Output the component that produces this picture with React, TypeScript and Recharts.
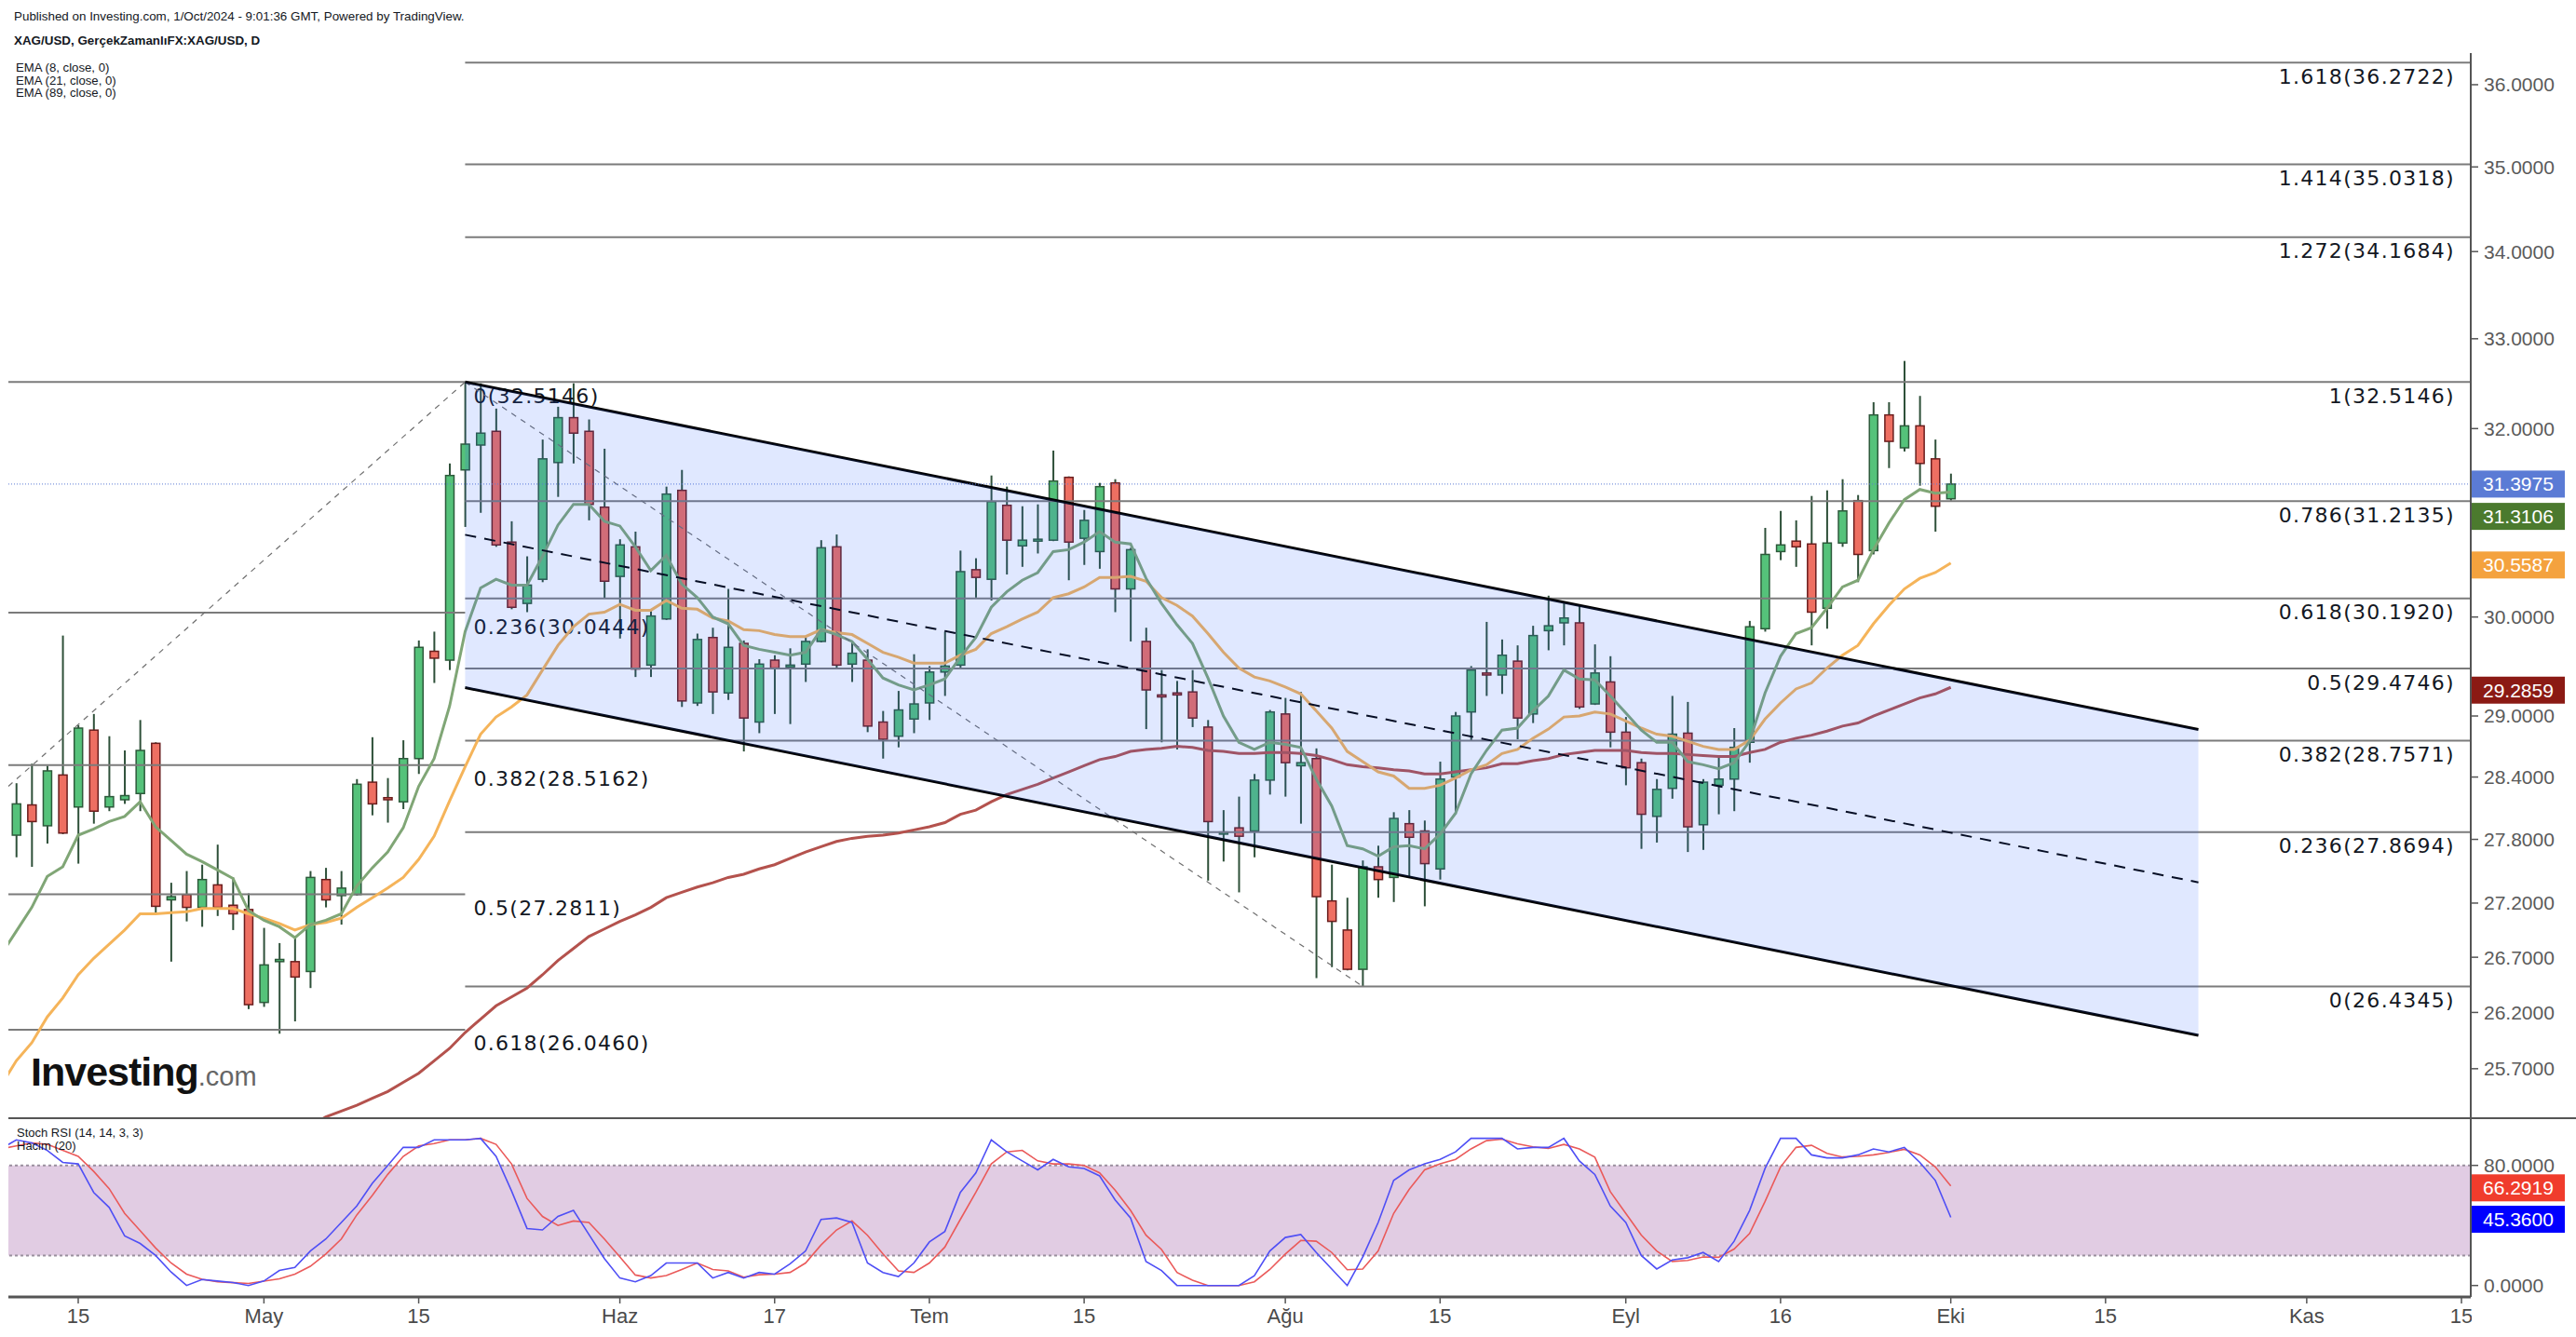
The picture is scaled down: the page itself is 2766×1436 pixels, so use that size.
import React from 'react';
import { ComposedChart, Bar, Line, Area, XAxis, YAxis, ReferenceLine, ReferenceArea } from 'recharts';

// ---------- DATA ----------
const FIRST_INDEX = -5; // trading-day index of first row (index 0 = 15 Apr 2024); row -5 lies left of the pane edge

const opens = [
  null, 27.84, 28.13, 27.93, 28.42,
  28.11, 28.86, 28.11, 28.18, 28.24, 28.73, 27.23, 27.28, 27.16, 27.37,
  27.18, 27.14, 26.29, 26.66, 26.66, 26.57, 27.42, 27.27, 27.28, 28.35,
  28.20, 28.16, 28.58, 29.65, 29.56, 31.55, 31.82, 31.97, 30.78, 30.14,
  30.39, 31.63, 32.12, 31.97, 31.15, 30.42, 30.73, 29.51, 29.98, 31.33,
  29.13, 29.79, 29.23, 29.73, 28.94, 29.56, 29.49, 29.52, 29.75, 30.73,
  29.52, 29.56, 28.94, 28.80, 28.97, 29.13, 29.44, 29.51, 30.49, 30.39,
  31.17, 30.74, 30.79, 30.80, 31.47, 30.82, 30.68, 31.41, 30.29, 29.75,
  29.21, 29.23, 29.24, 28.89, 27.85, 27.91, 27.88, 28.37, 29.02, 28.51,
  28.58, 27.22, 26.95, 26.59, 27.54, 27.44, 27.95, 27.88, 27.52, 28.40,
  29.04, 29.43, 29.41, 29.55, 29.02, 29.86, 29.94, 29.94, 29.12, 29.34,
  28.84, 28.54, 28.02, 28.29, 28.83, 27.94, 28.32, 28.38, 28.74, 29.88,
  30.68, 30.79, 30.76, 30.09, 30.77, 31.22, 30.69, 32.15, 31.79, 32.03,
  31.67, 31.24,
];
const highs = [
  null, 28.34, 28.53, 28.51, 29.81,
  28.91, 29.02, 28.80, 28.66, 28.96, 28.74, 27.39, 27.50, 27.56, 27.75,
  27.44, 27.29, 26.97, 26.83, 26.89, 27.50, 27.53, 27.50, 28.38, 28.79,
  28.39, 28.76, 29.76, 29.85, 31.62, 32.5146, 32.50, 32.22, 31.00, 30.63,
  31.88, 32.24, 32.50, 32.10, 31.78, 30.81, 30.89, 30.07, 31.37, 31.55,
  29.83, 29.89, 30.29, 29.76, 29.57, 29.61, 29.68, 29.79, 30.80, 30.86,
  29.75, 29.67, 29.05, 29.25, 29.62, 29.50, 29.85, 30.69, 30.61, 31.49,
  31.37, 31.16, 31.18, 31.76, 31.48, 31.12, 31.41, 31.45, 30.72, 29.89,
  29.46, 29.35, 29.46, 28.96, 28.08, 28.21, 28.43, 29.06, 29.18, 29.24,
  28.68, 27.56, 27.25, 27.60, 27.74, 28.06, 28.08, 27.98, 28.55, 29.04,
  29.50, 29.95, 29.77, 29.71, 29.91, 30.22, 30.14, 30.12, 29.72, 29.60,
  28.99, 28.58, 28.38, 29.20, 29.14, 28.38, 28.59, 28.88, 29.96, 30.93,
  31.11, 31.01, 31.27, 31.33, 31.45, 31.28, 32.29, 32.29, 32.75, 32.36,
  31.88, 31.51,
];
const lows = [
  null, 27.63, 27.54, 27.76, 27.85,
  27.57, 27.95, 28.07, 28.14, 28.07, 27.10, 26.66, 27.03, 26.98, 27.08,
  26.95, 26.23, 26.25, 26.01, 26.12, 26.42, 27.16, 27.00, 27.27, 28.03,
  27.96, 28.09, 28.43, 29.33, 29.46, 30.94, 31.09, 30.73, 30.08, 30.05,
  30.36, 31.26, 31.62, 31.01, 30.19, 29.78, 29.39, 29.39, 29.97, 29.09,
  29.10, 29.02, 29.16, 28.65, 28.83, 29.02, 28.92, 29.34, 29.74, 29.47,
  29.34, 28.84, 28.58, 28.69, 28.83, 28.96, 29.20, 29.47, 30.20, 30.17,
  30.44, 30.52, 30.66, 30.79, 30.38, 30.54, 30.50, 30.05, 29.75, 28.87,
  28.74, 28.67, 28.89, 27.41, 27.59, 27.30, 27.63, 28.23, 28.21, 27.95,
  26.51, 26.61, 26.58, 26.4345, 27.25, 27.21, 27.44, 27.17, 27.42, 28.04,
  28.76, 29.20, 29.22, 28.77, 28.93, 29.66, 29.71, 29.07, 29.11, 28.69,
  28.32, 27.71, 27.77, 28.19, 27.68, 27.70, 28.04, 28.07, 28.54, 29.85,
  30.59, 30.52, 29.71, 29.88, 30.73, 30.36, 30.65, 31.57, 31.75, 31.38,
  30.89, 31.22,
];
const closes = [
  null, 28.14, 27.97, 28.46, 27.86,
  28.88, 28.07, 28.21, 28.22, 28.66, 27.17, 27.26, 27.16, 27.42, 27.16,
  27.10, 26.27, 26.63, 26.68, 26.52, 27.44, 27.23, 27.34, 28.33, 28.14,
  28.18, 28.58, 29.69, 29.58, 31.49, 31.83, 31.95, 30.75, 30.10, 30.33,
  31.67, 32.12, 31.95, 31.18, 30.37, 30.75, 29.47, 30.01, 31.29, 29.15,
  29.77, 29.24, 29.69, 28.98, 29.52, 29.48, 29.51, 29.75, 30.72, 29.51,
  29.63, 28.90, 28.77, 29.06, 29.12, 29.44, 29.50, 30.47, 30.41, 31.21,
  30.80, 30.80, 30.81, 31.43, 30.78, 31.01, 31.37, 30.29, 30.70, 29.26,
  29.19, 29.21, 28.98, 27.97, 27.87, 27.83, 28.37, 29.04, 28.54, 28.54,
  27.26, 27.03, 26.59, 27.54, 27.42, 28.00, 27.82, 27.57, 28.38, 29.00,
  29.46, 29.41, 29.61, 28.98, 29.81, 29.91, 29.99, 29.09, 29.43, 28.84,
  28.49, 28.04, 28.28, 28.82, 27.92, 28.35, 28.38, 28.69, 29.90, 30.65,
  30.75, 30.73, 30.05, 30.77, 31.11, 30.65, 32.15, 31.86, 32.03, 31.62,
  31.16, 31.3975,
];
const ema8 = [
  26.72, 26.94, 27.16, 27.45, 27.54,
  27.84, 27.90, 27.97, 28.02, 28.16, 27.92, 27.79, 27.66, 27.59, 27.51,
  27.43, 27.13, 27.04, 26.98, 26.88, 27.00, 27.04, 27.10, 27.36, 27.53,
  27.68, 27.91, 28.31, 28.58, 29.10, 29.85, 30.30, 30.39, 30.33, 30.33,
  30.63, 30.96, 31.18, 31.18, 31.00, 30.95, 30.73, 30.48, 30.64, 30.34,
  30.20, 30.00, 29.93, 29.71, 29.67, 29.64, 29.61, 29.64, 29.87, 29.82,
  29.75, 29.57, 29.38, 29.31, 29.26, 29.31, 29.37, 29.59, 29.79, 30.10,
  30.26, 30.38, 30.46, 30.68, 30.70, 30.78, 30.89, 30.78, 30.76, 30.40,
  30.14, 29.92, 29.73, 29.38, 29.00, 28.74, 28.67, 28.74, 28.72, 28.69,
  28.38, 28.12, 27.74, 27.71, 27.64, 27.73, 27.74, 27.71, 27.85, 28.05,
  28.43, 28.66, 28.86, 28.88, 29.05, 29.20, 29.46, 29.37, 29.36, 29.20,
  29.03, 28.86, 28.74, 28.74, 28.55, 28.52, 28.48, 28.54, 28.75, 29.23,
  29.60, 29.83, 29.89, 30.09, 30.31, 30.38, 30.70, 30.98, 31.23, 31.34,
  31.30, 31.3106,
];
const ema21 = [
  25.55, 25.77, 25.93, 26.16, 26.33,
  26.54, 26.69, 26.82, 26.95, 27.10, 27.10, 27.11, 27.12, 27.15, 27.15,
  27.15, 27.10, 27.06, 27.01, 26.95, 27.00, 27.02, 27.06, 27.16, 27.25,
  27.34, 27.44, 27.61, 27.83, 28.17, 28.50, 28.82, 28.99, 29.09, 29.21,
  29.46, 29.71, 29.90, 30.03, 30.05, 30.13, 30.07, 30.07, 30.17, 30.09,
  30.08, 29.99, 29.96, 29.87, 29.86, 29.82, 29.80, 29.80, 29.87, 29.84,
  29.82, 29.73, 29.64, 29.59, 29.53, 29.53, 29.53, 29.61, 29.67, 29.83,
  29.90, 29.98, 30.05, 30.20, 30.24, 30.31, 30.41, 30.41, 30.42, 30.37,
  30.20, 30.12, 30.01, 29.83, 29.64, 29.48, 29.39, 29.35, 29.29, 29.22,
  29.05, 28.88, 28.65, 28.55, 28.45, 28.41, 28.29, 28.29, 28.32, 28.39,
  28.47, 28.52, 28.63, 28.67, 28.78, 28.87, 28.99, 29.00, 29.04, 29.02,
  28.95, 28.88, 28.82, 28.80, 28.75, 28.70, 28.67, 28.67, 28.76, 28.97,
  29.13, 29.27, 29.33, 29.48, 29.61, 29.71, 29.93, 30.12, 30.29, 30.40,
  30.46, 30.5587,
];
const ema89 = [
  null, null, null, null, null,
  null, null, null, null, null, null, null, null, null, null,
  null, null, null, null, null, 25.20, 25.28, 25.33, 25.38, 25.44,
  25.50, 25.58, 25.66, 25.77, 25.88, 26.02, 26.14, 26.26, 26.34, 26.42,
  26.54, 26.67, 26.78, 26.89, 26.96, 27.03, 27.09, 27.16, 27.25, 27.30,
  27.35, 27.39, 27.44, 27.47, 27.52, 27.56, 27.62, 27.68, 27.73, 27.78,
  27.81, 27.83, 27.84, 27.86, 27.89, 27.92, 27.96, 28.04, 28.08, 28.16,
  28.23, 28.28, 28.33, 28.39, 28.45, 28.51, 28.57, 28.60, 28.65, 28.67,
  28.68, 28.70, 28.69, 28.66, 28.65, 28.63, 28.63, 28.64, 28.64, 28.63,
  28.61, 28.57, 28.52, 28.50, 28.49, 28.47, 28.46, 28.43, 28.43, 28.45,
  28.47, 28.49, 28.53, 28.53, 28.56, 28.58, 28.62, 28.64, 28.66, 28.66,
  28.66, 28.64, 28.63, 28.63, 28.62, 28.61, 28.60, 28.60, 28.64, 28.67,
  28.74, 28.78, 28.81, 28.85, 28.90, 28.93, 29.00, 29.06, 29.12, 29.18,
  29.22, 29.2859,
];
const stochK = [
  91, 97, 95, 90, 82,
  81, 62, 52, 33, 28, 20, 9, 0, 4, 3,
  2, 0, 3, 10, 12, 23, 31, 42, 53, 68,
  80, 92, 92, 97, 97, 97, 98, 86, 63, 38,
  37, 46, 50, 34, 18, 5, 2.5, 6.6, 15, 15,
  15, 5, 8.7, 5, 8.7, 7.6, 14.5, 23, 44, 45,
  42, 15, 8.7, 6, 15, 29, 36, 62, 75, 97,
  89, 83, 77, 84, 79, 78, 73, 57, 45, 16,
  10, 0, 0, 0, 0, 0, 6.6, 23, 32, 34,
  22, 11, 0, 19, 42, 70, 77, 81, 84, 89,
  98, 98, 98, 91, 92, 92, 98, 83, 74, 53,
  42, 20, 11, 17, 18.5, 22, 16, 29.5, 50, 78,
  98, 98, 87, 85, 85, 87, 91, 89, 92, 82,
  70, 45.36,
];
const stochD = [
  91, 93, 95, 94, 90,
  86, 76, 64.5, 48, 36.6, 25, 15, 7.6, 4.1, 2.5,
  1.9, 1.4, 2.9, 4.5, 7.6, 12.8, 21, 31, 47, 60,
  74, 86, 93, 94.5, 97, 97, 98, 94, 81, 58,
  46, 40, 43, 42, 31, 19, 7, 5, 6.6, 10.7,
  15, 10.7, 9.7, 5.6, 7.2, 7.6, 8.7, 15, 27, 37,
  43, 33.5, 21, 9.7, 8.7, 15, 25.6, 44, 62, 81,
  89, 90, 83, 81, 81, 80, 75, 63.5, 50, 33.5,
  24, 8.7, 3.5, 0, 0, 0, 2.5, 10.7, 21, 30,
  29.5, 22, 10.5, 11, 23, 48, 64, 77, 81, 84,
  91, 96.5, 97.5, 94.4, 92.4, 91.3, 94, 91, 85.5, 62.5,
  48, 33.6, 23, 16, 16.7, 19, 18.8, 24.3, 34.6, 56,
  79, 92, 93.4, 88, 85.6, 86, 87, 88.7, 90.7, 87,
  79, 66.2919,
];

const xTickIndex = [0, 12, 22, 35, 45, 55, 65, 78, 88, 100, 110, 121, 131, 144, 154];
const xTickLabels = ['15', 'May', '15', 'Haz', '17', 'Tem', '15', 'Ağu', '15', 'Eyl', '16', 'Eki', '15', 'Kas', '15'];
const priceTicks = [36, 35, 34, 33, 32, 30, 29, 28.4, 27.8, 27.2, 26.7, 26.2, 25.7];
const stochTicks = [0, 80];

const leftFibRatios = ['0', '0.236', '0.382', '0.5', '0.618'];
const leftFibPrices = [32.5146, 30.0444, 28.5162, 27.2811, 26.046];
const rightFibRatios = ['1.618', '1.414', '1.272', '1', '0.786', '0.618', '0.5', '0.382', '0.236', '0'];
const rightFibPrices = [36.2722, 35.0318, 34.1684, 32.5146, 31.2135, 30.192, 29.4746, 28.7571, 27.8694, 26.4345];

const channelIndex = [25, 137];
const channelUpper = [32.5146, 28.866];
const channelLower = [29.283, 25.996];
const channelMid = [30.857, 27.394];
const anchorLeftIndex = [-4.513, 25];
const anchorLeftPrice = [28.31, 32.5146];
const anchorRightIndex = [25, 83];
const anchorRightPrice = [32.5146, 26.4345];

const legendLines = ['EMA (8, close, 0)', 'EMA (21, close, 0)', 'EMA (89, close, 0)'];

// ---------- LAYOUT CONSTANTS ----------
const W = 2766;
const PLOT_LEFT = 9;
const AXIS_W = 113;
const MAIN_TOP = 57;
const SEP_Y = 1201;
const X_DOMAIN: [number, number] = [-4.513, 154.6];
const Y_DOMAIN: [number, number] = [25.268, 36.392];
const S_DOMAIN: [number, number] = [-7.63, 111.44];
const AX_FONT = "'Liberation Sans', Arial, sans-serif";
const FIB_FONT = "'DejaVu Sans', Verdana, sans-serif";

const rows: any[] = opens.map((o, k) => ({
  i: FIRST_INDEX + k,
  o,
  h: highs[k],
  l: lows[k],
  c: closes[k],
  e8: ema8[k],
  e21: ema21[k],
  e89: ema89[k],
}));
channelIndex.forEach((ci, n) => {
  const r = rows.find((q) => q.i === ci);
  if (r) {
    r.chHi = channelUpper[n];
    r.chLo = channelLower[n];
  } else {
    rows.push({ i: ci, chHi: channelUpper[n], chLo: channelLower[n] });
  }
});

const stochRows = stochK.map((k, n) => ({ i: FIRST_INDEX + n, k, d: stochD[n] }));

const last = (a: any[]) => a[a.length - 1];

// ---------- SHAPES ----------
const GREEN = '#55c27a';
const GREEN_EDGE = '#2d5a3b';
const RED = '#ee6f62';
const RED_EDGE = '#6a1d1d';
const WICK = '#2e5039';

const Candle = (props: any) => {
  const { x, y, width, height, payload } = props;
  if (!payload || payload.h == null || x == null) return null;
  const cx = x + width / 2;
  const top = Math.min(y, y + height);
  const bot = Math.max(y, y + height);
  const lh = Math.log(payload.h);
  const ll = Math.log(payload.l);
  const span = lh - ll || 1;
  const yAt = (v: number) => top + ((bot - top) * (lh - Math.log(v))) / span;
  const yo = yAt(payload.o);
  const yc = yAt(payload.c);
  const up = payload.c >= payload.o;
  const bt = Math.min(yo, yc);
  const bh = Math.max(Math.abs(yc - yo), 2);
  return (
    <g>
      <line x1={cx} x2={cx} y1={top} y2={bot} stroke={WICK} strokeWidth={2} />
      <rect
        x={cx - 4.5}
        y={bt}
        width={9}
        height={bh}
        fill={up ? GREEN : RED}
        stroke={up ? GREEN_EDGE : RED_EDGE}
        strokeWidth={1.5}
      />
    </g>
  );
};

const FibLabel = (props: any) => {
  const { viewBox, text, side } = props;
  if (!viewBox) return null;
  const y = viewBox.y + 15;
  const x = side === 'left' ? viewBox.x + viewBox.width + 9 : viewBox.x + viewBox.width - 17;
  return (
    <text
      x={x}
      y={y}
      textAnchor={side === 'left' ? 'start' : 'end'}
      dominantBaseline="central"
      fontFamily={FIB_FONT}
      fontSize={22}
      letterSpacing={1.3}
      fill="#131722"
    >
      {text}
    </text>
  );
};

const ValueTag = (props: any) => {
  const { viewBox, text, bg, dy } = props;
  if (!viewBox) return null;
  const x = viewBox.x + viewBox.width;
  const y = viewBox.y + (dy || 0);
  return (
    <g>
      <rect x={x} y={y - 14.5} width={101} height={29} fill={bg} />
      <text x={x + 13} y={y} dominantBaseline="central" fill="#ffffff" fontFamily={AX_FONT} fontSize={21}>
        {text}
      </text>
    </g>
  );
};

const fmt4 = (v: number) => Number(v).toFixed(4);

export default function App() {
  const mainH = SEP_Y - MAIN_TOP;
  const stochH = 1436 - SEP_Y;
  return (
    <div
      style={{
        position: 'absolute',
        left: 0,
        top: 0,
        width: W,
        height: 1436,
        background: '#ffffff',
        overflow: 'hidden',
        fontFamily: AX_FONT,
      }}
    >
      {/* MAIN PRICE PANE */}
      <div style={{ position: 'absolute', left: 0, top: MAIN_TOP }}>
        <ComposedChart width={W} height={mainH} data={rows} margin={{ top: 0, right: 0, bottom: 0, left: PLOT_LEFT }}>
          <XAxis type="number" dataKey="i" domain={X_DOMAIN} allowDataOverflow hide />
          <YAxis
            orientation="right"
            width={AXIS_W}
            scale="log"
            domain={Y_DOMAIN}
            allowDataOverflow
            ticks={priceTicks}
            interval={0}
            tickFormatter={fmt4}
            tick={{ fontFamily: AX_FONT, fontSize: 21, fill: '#5a5a5a' }}
            tickSize={8}
            tickMargin={6}
            tickLine={{ stroke: '#555', strokeWidth: 1.5 }}
            axisLine={{ stroke: '#555', strokeWidth: 2 }}
          />

          {leftFibPrices.map((p, n) => (
            <ReferenceLine
              key={'lf' + n}
              segment={[
                { x: X_DOMAIN[0], y: p },
                { x: channelIndex[0], y: p },
              ]}
              stroke="#7b7b7b"
              strokeWidth={2}
              ifOverflow="visible"
              label={(lp: any) => <FibLabel {...lp} side="left" text={`${leftFibRatios[n]}(${fmt4(p)})`} />}
            />
          ))}
          {rightFibPrices.map((p, n) => (
            <ReferenceLine
              key={'rf' + n}
              segment={[
                { x: channelIndex[0], y: p },
                { x: X_DOMAIN[1], y: p },
              ]}
              stroke="#7b7b7b"
              strokeWidth={2}
              ifOverflow="visible"
              label={(lp: any) => <FibLabel {...lp} side="right" text={`${rightFibRatios[n]}(${fmt4(p)})`} />}
            />
          ))}

          <Bar
            dataKey={(d: any) => (d.h != null ? [d.l, d.h] : null)}
            barSize={9}
            shape={(p: any) => <Candle {...p} />}
            isAnimationActive={false}
          />
          <Line dataKey="e89" stroke="#b4524d" strokeWidth={3} dot={false} connectNulls isAnimationActive={false} />
          <Line dataKey="e21" stroke="#f5b45a" strokeWidth={3} dot={false} connectNulls isAnimationActive={false} />
          <Line dataKey="e8" stroke="#80a676" strokeWidth={3} dot={false} connectNulls isAnimationActive={false} />

          <Area
            dataKey={(d: any) => (d.chHi != null ? [d.chLo, d.chHi] : null)}
            stroke="none"
            fill="rgb(41,98,255)"
            fillOpacity={0.145}
            connectNulls
            isAnimationActive={false}
            zIndex={450}
          />

          <ReferenceLine
            segment={[
              { x: anchorLeftIndex[0], y: anchorLeftPrice[0] },
              { x: anchorLeftIndex[1], y: anchorLeftPrice[1] },
            ]}
            stroke="#6f6f6f"
            strokeWidth={1.2}
            strokeDasharray="6 6"
            ifOverflow="visible"
          />
          <ReferenceLine
            segment={[
              { x: anchorRightIndex[0], y: anchorRightPrice[0] },
              { x: anchorRightIndex[1], y: anchorRightPrice[1] },
            ]}
            stroke="#6f6f6f"
            strokeWidth={1.2}
            strokeDasharray="6 6"
            ifOverflow="visible"
          />
          <ReferenceLine
            segment={[
              { x: channelIndex[0], y: channelUpper[0] },
              { x: channelIndex[1], y: channelUpper[1] },
            ]}
            stroke="#000"
            strokeWidth={3}
            ifOverflow="visible"
          />
          <ReferenceLine
            segment={[
              { x: channelIndex[0], y: channelLower[0] },
              { x: channelIndex[1], y: channelLower[1] },
            ]}
            stroke="#000"
            strokeWidth={3}
            ifOverflow="visible"
          />
          <ReferenceLine
            segment={[
              { x: channelIndex[0], y: channelMid[0] },
              { x: channelIndex[1], y: channelMid[1] },
            ]}
            stroke="#000"
            strokeWidth={2}
            strokeDasharray="12 9"
            ifOverflow="visible"
          />

          <ReferenceLine
            y={last(closes)}
            stroke="#5b7bd5"
            strokeWidth={1}
            strokeDasharray="1 2"
            label={(lp: any) => <ValueTag {...lp} bg="#5b7bd5" text={fmt4(last(closes))} />}
          />
          <ReferenceLine
            y={last(ema8)}
            strokeOpacity={0}
            label={(lp: any) => <ValueTag {...lp} bg="#4b7a2e" dy={26} text={fmt4(last(ema8))} />}
          />
          <ReferenceLine
            y={last(ema21)}
            strokeOpacity={0}
            label={(lp: any) => <ValueTag {...lp} bg="#f4a23e" dy={2} text={fmt4(last(ema21))} />}
          />
          <ReferenceLine
            y={last(ema89)}
            strokeOpacity={0}
            label={(lp: any) => <ValueTag {...lp} bg="#8b1a14" dy={3} text={fmt4(last(ema89))} />}
          />
        </ComposedChart>
      </div>

      {/* STOCH RSI PANE */}
      <div style={{ position: 'absolute', left: 0, top: SEP_Y }}>
        <ComposedChart width={W} height={stochH} data={stochRows} margin={{ top: 0, right: 0, bottom: 0, left: PLOT_LEFT }}>
          <XAxis
            type="number"
            dataKey="i"
            domain={X_DOMAIN}
            allowDataOverflow
            ticks={xTickIndex}
            interval={0}
            tickFormatter={(v: number) => xTickLabels[xTickIndex.indexOf(v)] ?? ''}
            tick={{ fontFamily: AX_FONT, fontSize: 22, fill: '#4a4a4a' }}
            height={43}
            tickSize={7}
            tickMargin={5}
            tickLine={{ stroke: '#555', strokeWidth: 1.5 }}
            axisLine={{ stroke: '#555', strokeWidth: 3 }}
          />
          <YAxis
            orientation="right"
            width={AXIS_W}
            domain={S_DOMAIN}
            allowDataOverflow
            ticks={stochTicks}
            interval={0}
            tickFormatter={fmt4}
            tick={{ fontFamily: AX_FONT, fontSize: 21, fill: '#5a5a5a' }}
            tickSize={8}
            tickMargin={6}
            tickLine={{ stroke: '#555', strokeWidth: 1.5 }}
            axisLine={{ stroke: '#555', strokeWidth: 2 }}
          />
          <ReferenceArea y1={20} y2={80} fill="#e1cce3" fillOpacity={1} stroke="none" ifOverflow="visible" />
          <ReferenceLine y={80} stroke="#9a8f9e" strokeWidth={2} strokeDasharray="3 3" />
          <ReferenceLine y={20} stroke="#9a8f9e" strokeWidth={2} strokeDasharray="3 3" />
          <Line dataKey="d" stroke="#ea5a5a" strokeWidth={1.6} dot={false} isAnimationActive={false} />
          <Line dataKey="k" stroke="#4f4ff5" strokeWidth={1.6} dot={false} isAnimationActive={false} />
          <ReferenceLine
            y={last(stochD)}
            strokeOpacity={0}
            label={(lp: any) => <ValueTag {...lp} bg="#f03c2c" dy={2} text={fmt4(last(stochD))} />}
          />
          <ReferenceLine
            y={last(stochK)}
            strokeOpacity={0}
            label={(lp: any) => <ValueTag {...lp} bg="#0000ff" dy={2} text={fmt4(last(stochK))} />}
          />
        </ComposedChart>
      </div>

      {/* separator between panes */}
      <div style={{ position: 'absolute', left: PLOT_LEFT, top: SEP_Y - 1, width: W - PLOT_LEFT, height: 2, background: '#555' }} />
      {/* price scale background below the stoch pane hides the clipped last date */}
      <div style={{ position: 'absolute', left: W - AXIS_W + 1, top: 1396, width: AXIS_W, height: 40, background: '#fff' }} />

      {/* header */}
      <div style={{ position: 'absolute', left: 15, top: 9.6, fontSize: 13.4, color: '#131722', lineHeight: '15px', whiteSpace: 'nowrap' }}>
        Published on Investing.com, 1/Oct/2024 - 9:01:36 GMT, Powered by TradingView.
      </div>
      <div style={{ position: 'absolute', left: 15, top: 36, fontSize: 13.4, fontWeight: 'bold', color: '#131722', lineHeight: '15px', whiteSpace: 'nowrap' }}>
        XAG/USD, GerçekZamanlıFX:XAG/USD, D
      </div>
      <div style={{ position: 'absolute', left: 17, top: 66, fontSize: 13.2, color: '#131722', lineHeight: '13.5px', whiteSpace: 'nowrap' }}>
        {legendLines.map((t) => (
          <div key={t}>{t}</div>
        ))}
      </div>

      {/* stoch legend */}
      <div style={{ position: 'absolute', left: 18, top: 1210, fontSize: 13, color: '#131722', lineHeight: '14px', whiteSpace: 'nowrap' }}>
        <div>Stoch RSI (14, 14, 3, 3)</div>
        <div>Hacim (20)</div>
      </div>

      {/* logo */}
      <div style={{ position: 'absolute', left: 33, top: 1126, whiteSpace: 'nowrap', lineHeight: '50px' }}>
        <span style={{ fontSize: 43, fontWeight: 'bold', color: '#111', letterSpacing: -1 }}>Investing</span>
        <span style={{ fontSize: 29, color: '#666' }}>.com</span>
      </div>
    </div>
  );
}
